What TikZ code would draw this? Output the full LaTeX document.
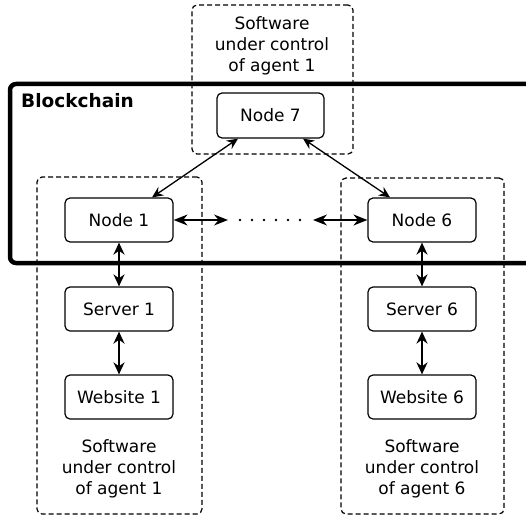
\documentclass[tikz,border=0pt]{standalone}
\usepackage{fontspec}
\setmainfont{DejaVu Sans}
\usetikzlibrary{arrows.meta}
\begin{document}
\begin{tikzpicture}[x=1pt,y=-1pt,
  box/.style={draw, line width=1.2pt, rounded corners=5pt, fill=white,
    minimum width=108pt, minimum height=44pt, inner sep=0pt,
    font=\fontsize{17}{21}\selectfont},
  dbox/.style={draw, line width=1.2pt, rounded corners=5pt,
    dash pattern=on 5pt off 3pt, inner sep=0pt},
  lbl/.style={align=center, font=\fontsize{17}{21}\selectfont, inner sep=0pt},
  dbl/.style={{Stealth[length=11pt,width=10pt]}-{Stealth[length=11pt,width=10pt]}, line width=1.3pt},
  vdbl/.style={{Stealth[length=12pt,width=11pt]}-{Stealth[length=12pt,width=11pt]}, line width=2pt},
  hdbl/.style={{Stealth[length=14pt,width=11pt]}-{Stealth[length=14pt,width=11pt]}, line width=1.4pt}]
\useasboundingbox (0,0) rectangle (526,516);
\begin{scope}
\clip (0,0) rectangle (526,516);
% dashed boxes
\node[dbox, minimum width=161pt, minimum height=149pt] (top) at (272.5,79.5) {};
\node[dbox, minimum width=165pt, minimum height=337pt] (left) at (119.5,345.5) {};
\node[dbox, minimum width=163pt, minimum height=336pt] (right) at (422.5,346) {};
% blockchain
\draw[line width=4.5pt, rounded corners=6pt] (560,84) -- (10,84) -- (10,263) -- (560,263);
\end{scope}
\node[anchor=west, inner sep=0pt, font=\fontsize{18.5}{22}\selectfont\bfseries] (bc) at (21,101) {Blockchain};
% labels
\node[lbl] (ttop) at (272,46) {Software\\under control\\of agent 1};
\node[lbl] (tleft) at (119,469) {Software\\under control\\of agent 1};
\node[lbl] (tright) at (422,469) {Software\\under control\\of agent 6};
% nodes
\node[box, minimum width=107pt, minimum height=45pt] (n7) at (270.5,115.5) {Node 7};
\node[box] (n1) at (119,220) {Node 1};
\node[box] (s1) at (119,309) {Server 1};
\node[box] (w1) at (119,397) {Website 1};
\node[box] (n6) at (422,220) {Node 6};
\node[box] (s6) at (422,309) {Server 6};
\node[box] (w6) at (422,397) {Website 6};
% connectors
\draw[dbl] ([xshift=33pt]n1.north) -- ([xshift=-32.5pt]n7.south);
\draw[dbl] ([xshift=32.5pt]n7.south) -- ([xshift=-32pt]n6.north);
\coordinate (dl) at (228,220);
\coordinate (dr) at (313,220);
\draw[hdbl] (n1.east) -- (dl);
\draw[hdbl] (dr) -- (n6.west);
\foreach \x in {240,252,...,300} \fill (\x,220) circle (1.3pt);
\draw[vdbl] (n1.south) -- (s1.north);
\draw[vdbl] (s1.south) -- (w1.north);
\draw[vdbl] (n6.south) -- (s6.north);
\draw[vdbl] (s6.south) -- (w6.north);
\end{tikzpicture}
\end{document}
